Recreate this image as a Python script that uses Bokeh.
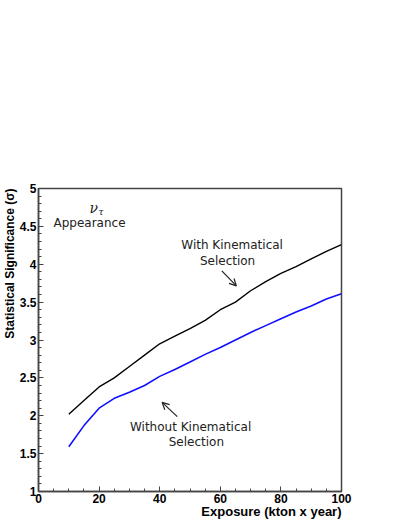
from bokeh.plotting import figure
from bokeh.models import Range1d, Label, Arrow, OpenHead, SingleIntervalTicker, Title
from bokeh.embed import file_html
from bokeh.resources import INLINE

exposure = [10, 15, 20, 25, 30, 35, 40, 45, 50, 55, 60, 65, 70, 75, 80, 85, 90, 95, 100]
with_kin = [2.02, 2.20, 2.38, 2.50, 2.65, 2.80, 2.95, 3.05, 3.15, 3.26, 3.40, 3.50, 3.65, 3.77, 3.88, 3.97, 4.07, 4.17, 4.26]
without_kin = [1.59, 1.87, 2.10, 2.23, 2.31, 2.40, 2.52, 2.61, 2.71, 2.81, 2.90, 3.00, 3.10, 3.19, 3.28, 3.37, 3.45, 3.54, 3.61]

x_title = "Exposure (kton x year)"
y_title = "Statistical Significance (\u03c3)"

p = figure(width=409, height=529, output_backend="svg", toolbar_location=None,
           x_range=Range1d(0, 100), y_range=Range1d(1, 5),
           min_border_left=38, min_border_right=68, min_border_top=188, min_border_bottom=38)
p.grid.visible = False
p.outline_line_color = "#444444"
p.outline_line_width = 1.5
p.background_fill_color = "white"
p.border_fill_color = "white"

p.xaxis.ticker = SingleIntervalTicker(interval=20, num_minor_ticks=4)
p.yaxis.ticker = SingleIntervalTicker(interval=0.5, num_minor_ticks=5)
for ax in (p.xaxis[0], p.yaxis[0]):
    ax.major_tick_in = 5
    ax.major_tick_out = 0
    ax.minor_tick_in = 3
    ax.minor_tick_out = 0
    ax.axis_line_color = "#444444"
    ax.axis_line_width = 1.5
    ax.major_tick_line_color = "#444444"
    ax.minor_tick_line_color = "#444444"
    ax.major_label_text_font = "Liberation Sans"
    ax.major_label_text_font_style = "bold"
    ax.major_label_text_font_size = "12px"
    ax.major_label_text_color = "black"
p.xaxis.major_label_standoff = 2
p.yaxis.major_label_standoff = 2

p.add_layout(Title(text=x_title, align="right", vertical_align="top", text_font="Liberation Sans",
                   text_font_style="bold", text_font_size="13px", text_color="black",
                   standoff=-4, offset=0), "below")
p.add_layout(Title(text=y_title, align="right", text_font="Liberation Sans",
                   text_font_style="bold", text_font_size="12px", text_color="black",
                   standoff=0, offset=0), "left")

p.line(exposure, with_kin, line_color="black", line_width=1.4)
p.line(exposure, without_kin, line_color="#1010ff", line_width=1.6)

def lab(x, y, t, size="12px", font="DejaVu Sans", style="normal", align="center", color="#222222"):
    p.add_layout(Label(x=x, y=y, text=t, text_font=font, text_font_size=size,
                       text_font_style=style, text_align=align, text_baseline="middle",
                       text_color=color))

lab(16.8, 4.74, "\u03bd", size="14px", font="DejaVu Serif", style="italic", align="left")
lab(19.8, 4.69, "\u03c4", size="9px", font="DejaVu Serif", style="italic", align="left")
lab(4.95, 4.544, "Appearance", align="left")
lab(63.9, 4.254, "With Kinematical")
lab(62.4, 4.043, "Selection")
lab(50.2, 1.856, "Without Kinematical")
lab(52.1, 1.659, "Selection")

p.add_layout(Arrow(x_start=60.5, y_start=3.912, x_end=65.3, y_end=3.714,
                   line_color="#222222", line_width=1.2,
                   end=OpenHead(size=7, line_color="#222222", line_width=1.2)))
p.add_layout(Arrow(x_start=45.8, y_start=1.988, x_end=40.8, y_end=2.177,
                   line_color="#222222", line_width=1.2,
                   end=OpenHead(size=7, line_color="#222222", line_width=1.2)))

open("out.html", "w").write(file_html(p, INLINE))
